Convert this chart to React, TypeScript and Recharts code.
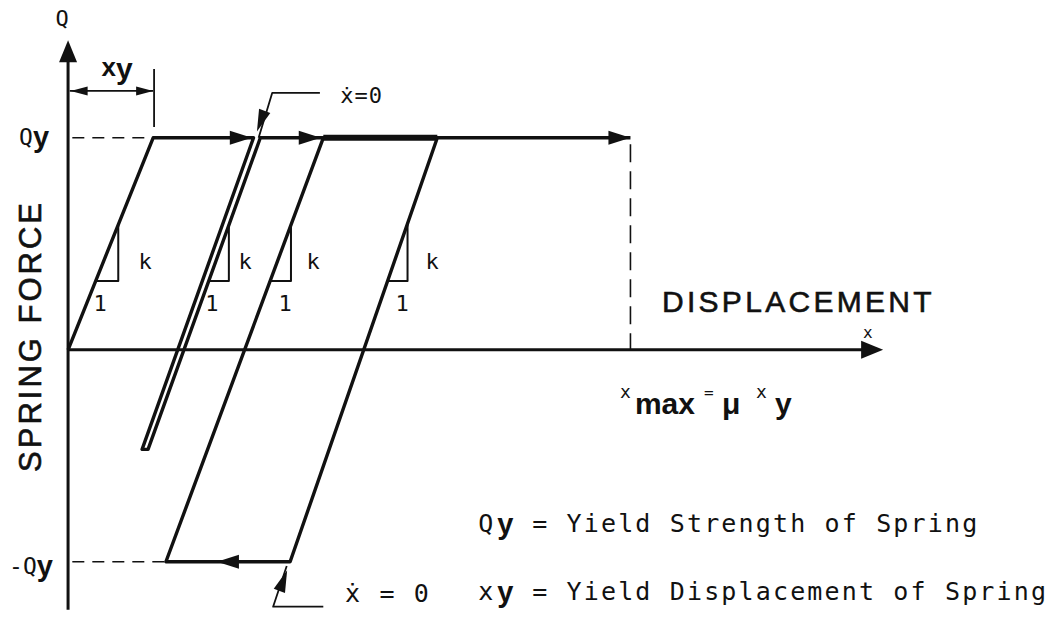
import React from "react";
import { ComposedChart, Line, Scatter, XAxis, YAxis } from "recharts";

const W = 1055;
const H = 619;
const INK = "#111";
const MONO = "'DejaVu Sans Mono', monospace";
const SANS = "'Liberation Sans', Arial, sans-serif";

// displacement in units of x_y, spring force in units of Q_y
const loadPath = [
  { x: 0, y: 0 },
  { x: 1.0, y: 1 },
  { x: 2.18, y: 1 },
  { x: 0.87, y: -0.47 },
  { x: 0.94, y: -0.47 },
  { x: 2.26, y: 1 },
  { x: 3.0, y: 1 },
  { x: 4.34, y: 1 },
  { x: 2.61, y: -1 },
  { x: 1.15, y: -1 },
  { x: 3.0, y: 1 },
  { x: 6.61, y: 1 },
];
const plateau = [
  { x: 3.0, y: 1 },
  { x: 4.34, y: 1 },
];

const xAxisLine = [
  { x: 0, y: 0 },
  { x: 9.5, y: 0 },
];
const yAxisLine = [
  { x: 0, y: 1.4 },
  { x: 0, y: -1.226 },
];

const qyGuide = [
  { x: 0.05, y: 1 },
  { x: 1.0, y: 1 },
];
const negQyGuide = [
  { x: 0.05, y: -1 },
  { x: 1.15, y: -1 },
];
const xmaxGuide = [
  { x: 6.61, y: 0.97 },
  { x: 6.61, y: 0 },
];

// x_y dimension
const xyDim = [
  { x: 0.02, y: 1.221 },
  { x: 1.0, y: 1.221 },
];
const xyTick = [
  { x: 1.011, y: 1.325 },
  { x: 1.011, y: 1.051 },
];

// leaders for the xdot = 0 notes
const leaderTop = [
  { x: 2.96, y: 1.212 },
  { x: 2.4, y: 1.212 },
  { x: 2.24, y: 1.0 },
];
const leaderBottom = [
  { x: 3.0, y: -1.212 },
  { x: 2.41, y: -1.212 },
  { x: 2.57, y: -1.02 },
];

// slope triangles k / 1
const slopes = [
  [
    { x: 0.59, y: 0.59 },
    { x: 0.59, y: 0.325 },
    { x: 0.325, y: 0.325 },
  ],
  [
    { x: 1.89, y: 0.59 },
    { x: 1.89, y: 0.325 },
    { x: 1.65, y: 0.325 },
  ],
  [
    { x: 2.62, y: 0.59 },
    { x: 2.62, y: 0.325 },
    { x: 2.38, y: 0.325 },
  ],
  [
    { x: 3.99, y: 0.59 },
    { x: 3.99, y: 0.325 },
    { x: 3.76, y: 0.325 },
  ],
];
const kLabels = [
  { x: 0.905, y: 0.415, t: "k" },
  { x: 2.08, y: 0.415, t: "k" },
  { x: 2.88, y: 0.415, t: "k" },
  { x: 4.28, y: 0.415, t: "k" },
];
const oneLabels = [
  { x: 0.376, y: 0.22, t: "1" },
  { x: 1.69, y: 0.22, t: "1" },
  { x: 2.55, y: 0.22, t: "1" },
  { x: 3.925, y: 0.22, t: "1" },
];

// arrow tips, dir in screen degrees (0 = right, 90 = down)
const pathArrows = [
  { x: 2.16, y: 1, dir: 0 },
  { x: 2.97, y: 1, dir: 0 },
  { x: 6.61, y: 1, dir: 0 },
  { x: 1.75, y: -1, dir: 180 },
];
const axisArrows = [
  { x: 9.58, y: 0, dir: 0 },
  { x: 0, y: 1.46, dir: -90 },
];
const leaderArrows = [
  { x: 2.22, y: 1.03, dir: 110.6 },
  { x: 2.575, y: -1.04, dir: -69.3 },
];
const dimArrows = [
  { x: 0.03, y: 1.221, dir: 180 },
  { x: 1.0, y: 1.221, dir: 0 },
];

// annotation anchors
const notes = [
  { x: -0.071, y: 1.565, id: "Q" },
  { x: -0.4, y: 1.003, id: "Qy" },
  { x: -0.436, y: -1.02, id: "-Qy" },
  { x: 0.576, y: 1.31, id: "xy" },
  { x: 3.2, y: 1.2, id: "xdotTop" },
  { x: 3.255, y: -1.152, id: "xdotBottom" },
  { x: 6.98, y: 0.228, id: "DISPLACEMENT" },
  { x: 9.4, y: 0.082, id: "x" },
  { x: -0.447, y: 0.065, id: "SPRING FORCE" },
  { x: 6.486, y: -0.26, id: "xmax" },
  { x: 4.82, y: -0.817, id: "defQ" },
  { x: 4.82, y: -1.138, id: "defX" },
];

function arrowShape(len: number, half: number) {
  return (p: any) => {
    const { cx, cy, payload } = p;
    const a = (payload.dir * Math.PI) / 180;
    const ux = Math.cos(a);
    const uy = Math.sin(a);
    const bx = cx - ux * len;
    const by = cy - uy * len;
    const pts = `${cx},${cy} ${bx - uy * half},${by + ux * half} ${bx + uy * half},${by - ux * half}`;
    return <polygon points={pts} fill={INK} />;
  };
}

const textShape = (size: number) => (p: any) => (
  <text
    x={p.cx}
    y={p.cy}
    textAnchor="middle"
    dominantBaseline="central"
    fontFamily={MONO}
    fontSize={size}
    fill={INK}
  >
    {p.payload.t}
  </text>
);

const monoDef = { fontFamily: MONO, fontSize: 25, letterSpacing: 2.15, fill: INK };
const boldY = { fontFamily: SANS, fontWeight: 700, fontSize: 29, fill: INK };

function Note(p: any) {
  const { cx, cy, payload } = p;
  switch (payload.id) {
    case "Q":
      return (
        <text x={cx} y={cy} textAnchor="middle" dominantBaseline="central" fontFamily={MONO} fontSize={22} fill={INK}>
          Q
        </text>
      );
    case "Qy":
      return (
        <text x={cx} y={cy + 8} textAnchor="middle">
          <tspan fontFamily={MONO} fontSize={23} fill={INK}>Q</tspan>
          <tspan {...boldY} dy={2}>y</tspan>
        </text>
      );
    case "-Qy":
      return (
        <text x={cx} y={cy + 8} textAnchor="middle">
          <tspan fontFamily={MONO} fontSize={23} fill={INK}>-Q</tspan>
          <tspan {...boldY} dy={2}>y</tspan>
        </text>
      );
    case "xy":
      return (
        <text x={cx} y={cy + 4} textAnchor="middle" fill={INK} fontFamily={SANS} fontWeight={700}>
          <tspan fontSize={26}>x</tspan>
          <tspan fontSize={30} dy={3}>y</tspan>
        </text>
      );
    case "xdotTop":
      return (
        <text x={cx} y={cy} dominantBaseline="central" fontFamily={MONO} fontSize={22} letterSpacing={1} fill={INK}>
          ẋ=0
        </text>
      );
    case "xdotBottom":
      return (
        <text x={cx} y={cy} dominantBaseline="central" {...monoDef}>
          ẋ = 0
        </text>
      );
    case "DISPLACEMENT":
      return (
        <text x={cx} y={cy} dominantBaseline="central" fontFamily={SANS} fontSize={30} letterSpacing={3.3} fill={INK} stroke={INK} strokeWidth={0.6}>
          DISPLACEMENT
        </text>
      );
    case "x":
      return (
        <text x={cx} y={cy} textAnchor="middle" dominantBaseline="central" fontFamily={MONO} fontSize={16} fill={INK}>
          x
        </text>
      );
    case "SPRING FORCE":
      return (
        <text
          x={cx}
          y={cy}
          textAnchor="middle"
          dominantBaseline="central"
          transform={`rotate(-90 ${cx} ${cy})`}
          fontFamily={SANS}
          fontSize={31}
          letterSpacing={3}
          fill={INK}
          stroke={INK}
          strokeWidth={0.6}
        >
          SPRING FORCE
        </text>
      );
    case "xmax":
      return (
        <g fill={INK}>
          <text x={cx} y={cy - 7} fontFamily={MONO} fontSize={18}>x</text>
          <text x={cx + 15} y={cy + 9} fontFamily={SANS} fontWeight={700} fontSize={30}>max</text>
          <text x={cx + 84} y={cy - 7} fontFamily={MONO} fontSize={16}>=</text>
          <text x={cx + 102} y={cy + 9} fontFamily={SANS} fontWeight={700} fontSize={30}>μ</text>
          <text x={cx + 136} y={cy - 7} fontFamily={MONO} fontSize={18}>x</text>
          <text x={cx + 155} y={cy + 9} fontFamily={SANS} fontWeight={700} fontSize={30}>y</text>
        </g>
      );
    case "defQ":
    case "defX":
      return (
        <g>
          <text x={cx} y={cy + 9} {...monoDef}>{payload.id === "defQ" ? "Q" : "x"}</text>
          <text x={cx + 19} y={cy + 11} {...boldY}>y</text>
          <text x={cx + 54} y={cy + 9} {...monoDef}>
            {payload.id === "defQ" ? "= Yield Strength of Spring" : "= Yield Displacement of Spring"}
          </text>
        </g>
      );
    default:
      return null;
  }
}

export default function App() {
  const line = (key: string, data: any[], width: number, dash?: string) => (
    <Line
      key={key}
      data={data}
      dataKey="y"
      type="linear"
      stroke={INK}
      strokeWidth={width}
      strokeDasharray={dash}
      strokeLinejoin="round"
      dot={false}
      activeDot={false}
      legendType="none"
      isAnimationActive={false}
    />
  );

  return (
    <div style={{ position: "absolute", left: 0, top: 0, width: W, height: H, background: "#fff" }}>
      <ComposedChart width={W} height={H} margin={{ top: 0, right: 0, bottom: 0, left: 0 }}>
        <XAxis type="number" dataKey="x" domain={[-0.8, 11.6]} hide allowDataOverflow />
        <YAxis type="number" dataKey="y" domain={[-1.27, 1.65]} hide allowDataOverflow />

        {line("xaxis", xAxisLine, 3)}
        {line("yaxis", yAxisLine, 3)}
        {line("qy", qyGuide, 1.6, "12 8")}
        {line("nqy", negQyGuide, 1.6, "12 8")}
        {line("xmax", xmaxGuide, 1.6, "18 9")}
        {line("dim", xyDim, 1.8)}
        {line("tick", xyTick, 1.8)}
        {line("leadT", leaderTop, 1.8)}
        {line("leadB", leaderBottom, 1.8)}
        {slopes.map((s, i) => line(`slope${i}`, s, 2))}
        {line("path", loadPath, 3.4)}
        {line("plateau", plateau, 6)}

        <Scatter data={pathArrows} dataKey="y" shape={arrowShape(22, 7)} isAnimationActive={false} legendType="none" />
        <Scatter data={axisArrows} dataKey="y" shape={arrowShape(22, 9)} isAnimationActive={false} legendType="none" />
        <Scatter data={leaderArrows} dataKey="y" shape={arrowShape(22, 6)} isAnimationActive={false} legendType="none" />
        <Scatter data={dimArrows} dataKey="y" shape={arrowShape(17, 4.5)} isAnimationActive={false} legendType="none" />
        <Scatter data={kLabels} dataKey="y" shape={textShape(22)} isAnimationActive={false} legendType="none" />
        <Scatter data={oneLabels} dataKey="y" shape={textShape(22)} isAnimationActive={false} legendType="none" />
        <Scatter data={notes} dataKey="y" shape={Note} isAnimationActive={false} legendType="none" />
      </ComposedChart>
    </div>
  );
}
